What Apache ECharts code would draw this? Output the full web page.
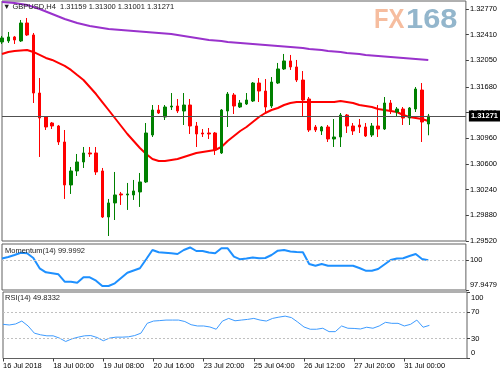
<!DOCTYPE html>
<html><head><meta charset="utf-8">
<script src="https://cdn.jsdelivr.net/npm/echarts@6/dist/echarts.min.js"></script>
<style>html,body{margin:0;padding:0;background:#fff}#c{width:500px;height:375px}</style>
</head><body><div id="c"></div>
<script>
const titleText = '\u25BC GBPUSD,H4  1.31159 1.31300 1.31001 1.31271';
const momTitle = 'Momentum(14) 99.9992';
const rsiTitle = 'RSI(14) 49.8332';
const lastPrice = 1.31271;

const opens = [1.32308,1.32322,1.32378,1.32322,1.32574,1.32406,1.31593,1.31257,1.31173,1.31131,
1.30907,1.30305,1.30501,1.30627,1.30753,1.30753,1.30501,1.29856,1.30053,1.30179,
1.30165,1.30165,1.30207,1.30347,1.31005,1.31355,1.31257,1.31397,1.31411,1.31341,
1.31425,1.31131,1.31033,1.31033,1.31033,1.30753,1.31341,1.31565,1.31397,1.31439,
1.31481,1.31733,1.31621,1.31411,1.31733,1.31930,1.32042,1.31958,1.31775,1.31509,
1.31117,1.31061,1.31117,1.30949,1.30977,1.31285,1.31131,1.31145,1.31117,1.31005,
1.31131,1.31089,1.31453,1.31327,1.31369,1.31243,1.31369,1.31635,1.31159];
const closes = [1.32364,1.32378,1.32336,1.32574,1.32406,1.31593,1.31243,1.31117,1.31131,1.30907,
1.30305,1.30501,1.30627,1.30753,1.30739,1.30487,1.29856,1.30053,1.30165,1.30165,
1.30179,1.30221,1.30347,1.31033,1.31355,1.31313,1.31397,1.31411,1.31341,1.31425,
1.31131,1.31019,1.31019,1.31019,1.30795,1.31355,1.31579,1.31411,1.31453,1.31495,
1.31733,1.31621,1.31397,1.31747,1.31930,1.32042,1.31958,1.31775,1.31495,1.31075,
1.31075,1.31117,1.30949,1.30977,1.31285,1.31131,1.31061,1.31117,1.30991,1.31131,
1.31089,1.31453,1.31341,1.31369,1.31243,1.31383,1.31649,1.31187,1.31271];
const lows = [1.32280,1.32294,1.32280,1.32308,1.32392,1.31453,1.30697,1.31075,1.31089,1.30865,
1.30109,1.30179,1.30431,1.30543,1.30697,1.30445,1.29842,1.29590,1.29814,1.30025,
1.29955,1.30095,1.29997,1.30333,1.30977,1.31299,1.31215,1.31355,1.31313,1.31145,
1.31019,1.30837,1.30977,1.30949,1.30725,1.30739,1.31117,1.31299,1.31383,1.31425,
1.31467,1.31467,1.31313,1.31383,1.31719,1.31916,1.31916,1.31747,1.31257,1.31047,
1.31047,1.31005,1.30907,1.30837,1.30837,1.31033,1.31005,1.31033,1.30977,1.30977,
1.30977,1.31075,1.31299,1.31271,1.31145,1.31145,1.31327,1.30907,1.31001];
const highs = [1.32392,1.32448,1.32392,1.32616,1.32644,1.32434,1.31803,1.31257,1.31187,1.31145,
1.31075,1.30557,1.30739,1.30837,1.30837,1.30837,1.30543,1.30109,1.30487,1.30207,
1.30333,1.30375,1.30473,1.31173,1.31425,1.31425,1.31425,1.31593,1.31509,1.31593,
1.31509,1.31187,1.31089,1.31103,1.31047,1.31369,1.31607,1.31593,1.31495,1.31593,
1.31747,1.31803,1.31789,1.31817,1.32014,1.32140,1.32126,1.32056,1.31901,1.31537,
1.31145,1.31131,1.31145,1.31229,1.31313,1.31299,1.31173,1.31229,1.31173,1.31173,
1.31425,1.31537,1.31495,1.31397,1.31397,1.31397,1.31677,1.31733,1.31300];

const maFast = [1.32140,1.32168,1.32182,1.32189,1.32196,1.32168,1.32126,1.32084,1.32056,1.32014,
1.31972,1.31916,1.31845,1.31775,1.31677,1.31579,1.31467,1.31355,1.31243,1.31131,
1.31019,1.30921,1.30823,1.30739,1.30669,1.30641,1.30641,1.30655,1.30669,1.30697,
1.30725,1.30753,1.30767,1.30781,1.30795,1.30837,1.30921,1.30991,1.31061,1.31117,
1.31187,1.31257,1.31313,1.31355,1.31383,1.31425,1.31453,1.31467,1.31467,1.31467,
1.31467,1.31467,1.31467,1.31467,1.31481,1.31467,1.31453,1.31425,1.31411,1.31397,
1.31369,1.31355,1.31341,1.31327,1.31285,1.31257,1.31243,1.31229,1.31201];
const maSlow = [1.32868,1.32861,1.32854,1.32840,1.32826,1.32798,1.32770,1.32735,1.32700,1.32665,
1.32630,1.32602,1.32574,1.32553,1.32532,1.32518,1.32504,1.32490,1.32483,1.32476,
1.32469,1.32462,1.32455,1.32448,1.32441,1.32434,1.32427,1.32420,1.32406,1.32392,
1.32378,1.32364,1.32350,1.32336,1.32329,1.32322,1.32308,1.32301,1.32294,1.32287,
1.32280,1.32273,1.32266,1.32259,1.32252,1.32245,1.32238,1.32231,1.32224,1.32210,
1.32203,1.32196,1.32182,1.32175,1.32168,1.32154,1.32147,1.32140,1.32126,1.32119,
1.32112,1.32105,1.32098,1.32091,1.32084,1.32077,1.32070,1.32063,1.32056];

const momentum = [100.122,100.226,100.364,100.523,100.481,100.157,99.446,99.170,99.101,99.032,
98.521,98.521,98.452,98.825,98.825,98.590,98.224,98.224,98.410,98.776,
99.142,99.294,99.446,100.067,100.709,100.550,100.523,100.481,100.433,100.709,
100.882,100.640,100.640,100.537,100.481,100.826,100.826,100.247,100.067,100.122,
100.191,100.136,100.157,100.364,100.661,100.709,100.606,100.571,100.550,99.743,
99.625,99.743,99.625,99.625,99.625,99.625,99.625,99.467,99.280,99.280,
99.398,99.708,100.019,100.122,100.136,100.295,100.433,100.088,99.9992];
const rsi = [51.4,50.4,51.9,56.3,48.9,38.1,35.6,34.1,34.1,30.7,
25.6,29.6,32.1,34.1,34.5,31.6,26.7,30.7,32.1,32.1,
32.6,34.5,38.1,52.9,56.3,57.0,57.8,57.8,57.8,55.6,
50.8,48.9,48.9,47.4,44.0,56.3,60.3,56.7,57.8,58.8,
60.3,57.8,56.3,60.3,62.2,63.7,61.5,54.8,47.4,44.0,
44.0,45.5,40.4,40.4,48.9,45.5,45.2,44.4,47.0,45.5,
48.9,54.4,52.9,52.9,48.9,51.4,57.8,47.0,49.8332];

const priceTicks = ['1.29520','1.29880','1.30240','1.30600','1.30960','1.31320','1.31680','1.32050','1.32410','1.32770'];
const momTicks = ['97.9479','100','101.1232'];
const rsiTicks = ['0','30','70','100'];
const momLevels = [100];
const rsiLevels = [70, 30];
const timeLabels = ['16 Jul 2018','18 Jul 00:00','19 Jul 08:00','20 Jul 16:00','23 Jul 20:00','25 Jul 04:00','26 Jul 12:00','27 Jul 20:00','31 Jul 00:00'];
const LABEL_EVERY = 8;
const SLOTS = 75;

const cats = Array.from({length: SLOTS}, (_, i) => String(i));
const candles = opens.map((o, i) => [o, closes[i], lows[i], highs[i]]);
const FONT = 'Liberation Sans, Arial, sans-serif';
const tickShow = (idx) => idx % LABEL_EVERY === 0 && idx / LABEL_EVERY < timeLabels.length;

const chart = echarts.init(document.getElementById('c'), null, {renderer: 'canvas'});
const frame = {show: true, borderColor: '#606060', borderWidth: 1, backgroundColor: '#fff'};
const baseX = (g) => ({
  type: 'category', gridIndex: g, data: cats, boundaryGap: false,
  axisLine: {show: false}, axisTick: {show: false}, axisLabel: {show: false}, splitLine: {show: false}
});
const xBottom = Object.assign(baseX(2), {
  axisTick: {show: true, interval: tickShow, length: 3, lineStyle: {color: '#404040'}},
  axisLabel: {show: true, interval: tickShow, align: 'left', margin: 3, fontSize: 7.5, color: '#000', fontFamily: FONT,
    formatter: (v, idx) => timeLabels[Number(v) / LABEL_EVERY] || ''}
});
const yLabel = {color: '#000', fontSize: 7.5, fontFamily: FONT, margin: 4, lineHeight: 11};
const yTick = {show: true, length: 3, lineStyle: {color: '#404040'}};

const option = {
  animation: false,
  backgroundColor: '#fff',
  grid: [
    Object.assign({left: 2, right: 33, top: 1, bottom: 134}, frame),
    Object.assign({left: 2, right: 33, top: 244, bottom: 85}, frame),
    Object.assign({left: 2, right: 33, top: 292, bottom: 16.5}, frame)
  ],
  xAxis: [baseX(0), baseX(1), xBottom],
  yAxis: [
    {type: 'value', gridIndex: 0, position: 'right', min: 1.29520, max: 1.32882,
     splitLine: {show: false}, axisLine: {show: false},
     axisTick: Object.assign({customValues: priceTicks.map(Number)}, yTick),
     axisLabel: Object.assign({}, yLabel, {customValues: priceTicks.map(Number), formatter: (v) => {
        let best = priceTicks[0];
        priceTicks.forEach(t => { if (Math.abs(Number(t) - v) < Math.abs(Number(best) - v)) best = t; });
        return best; }})},
    {type: 'value', gridIndex: 1, position: 'right', min: Number(momTicks[0]), max: Number(momTicks[2]),
     splitLine: {show: false}, axisLine: {show: false},
     axisTick: Object.assign({customValues: momTicks.map(Number)}, yTick),
     axisLabel: Object.assign({}, yLabel, {customValues: momTicks.map(Number), formatter: (v) => {
        if (Math.abs(v - Number(momTicks[2])) < 1e-6) return '\n' + momTicks[2];
        if (Math.abs(v - Number(momTicks[0])) < 1e-6) return momTicks[0] + '\n ';
        return momTicks[1]; }})},
    {type: 'value', gridIndex: 2, position: 'right', min: 0, max: 100,
     splitLine: {show: false}, axisLine: {show: false},
     axisTick: Object.assign({customValues: rsiTicks.map(Number)}, yTick),
     axisLabel: Object.assign({}, yLabel, {customValues: rsiTicks.map(Number), formatter: (v) => {
        if (v === 100) return '\n100';
        if (v === 0) return '0\n ';
        return String(v); }})}
  ],
  series: [
    {type: 'line', xAxisIndex: 0, yAxisIndex: 0, data: maSlow, symbol: 'none', z: 2,
     lineStyle: {color: '#9932cc', width: 2}},
    {type: 'line', xAxisIndex: 0, yAxisIndex: 0, data: maFast, symbol: 'none', z: 2,
     lineStyle: {color: '#ff0000', width: 2},
     markLine: {silent: true, symbol: ['none', 'none'], animation: false, precision: 5,
       lineStyle: {color: '#505050', type: 'solid', width: 1},
       label: {show: true, position: 'end', distance: 3, formatter: lastPrice.toFixed(5), color: '#fff',
         backgroundColor: '#000', padding: [2, 2, 1, 2], fontSize: 7.5, fontWeight: 'bold', fontFamily: FONT},
       data: [{yAxis: lastPrice}]}},
    {type: 'candlestick', xAxisIndex: 0, yAxisIndex: 0, data: candles, barWidth: 3, clip: true, z: 3,
     itemStyle: {color: '#008000', color0: '#ff0000', borderColor: '#008000', borderColor0: '#ff0000', borderWidth: 1}},
    {type: 'line', xAxisIndex: 1, yAxisIndex: 1, data: momentum, symbol: 'none',
     lineStyle: {color: '#1e90ff', width: 2},
     markLine: {silent: true, symbol: ['none', 'none'], animation: false, label: {show: false},
       lineStyle: {color: '#c0c0c0', type: [2, 2], width: 1},
       data: momLevels.map(v => ({yAxis: v}))}},
    {type: 'line', xAxisIndex: 2, yAxisIndex: 2, data: rsi, symbol: 'none',
     lineStyle: {color: '#3d9bff', width: 1},
     markLine: {silent: true, symbol: ['none', 'none'], animation: false, label: {show: false},
       lineStyle: {color: '#c0c0c0', type: [2, 2], width: 1},
       data: rsiLevels.map(v => ({yAxis: v}))}}
  ],
  graphic: [
    {type: 'text', left: 374, top: 6, z: 0, scaleX: 0.85,
     style: {text: 'FX', fill: '#f6bd9f', font: 'bold 28px ' + FONT}},
    {type: 'text', left: 406, top: 6, z: 0, scaleX: 1.1,
     style: {text: '168', fill: '#93b6cc', font: 'bold 28px ' + FONT}},
    {type: 'text', left: 3, top: 3, z: 10,
     style: {text: titleText, fill: '#202020', font: '7.5px ' + FONT}},
    {type: 'text', left: 5, top: 247, z: 10,
     style: {text: momTitle, fill: '#202020', font: '7.5px ' + FONT}},
    {type: 'text', left: 5, top: 294, z: 10,
     style: {text: rsiTitle, fill: '#202020', font: '7.5px ' + FONT}}
  ]
};
chart.setOption(option);
</script>
</body></html>
